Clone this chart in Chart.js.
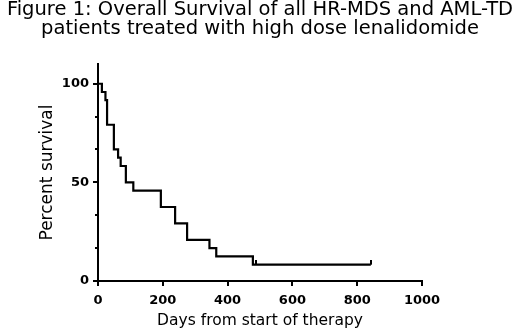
<!DOCTYPE html>
<html lang="en">
<head>
    <meta charset="UTF-8">
    <title>Overall Survival</title>
    <script src="https://cdn.jsdelivr.net/npm/chart.js"></script>
    <style>
        html, body { margin: 0; padding: 0; background: #fff; }
        canvas { display: block; }
    </style>
</head>
<body>
    <canvas id="survivalChart" width="520" height="330"></canvas>

    <script>
        // Kaplan-Meier steps (days, percent surviving after each drop)
        const days = [0, 12, 23, 28, 49, 62, 70, 86, 109, 194, 238, 275, 344, 365, 478, 842];
        const survival = [100, 95.8, 91.7, 79.2, 66.7, 62.5, 58.3, 50, 45.8, 37.5, 29.2, 20.8, 16.7, 12.5, 8.3, 8.3];

        // censored patients (small upward ticks on the curve)
        const censoredDays = [487, 842];
        const censoredSurvival = [8.3, 8.3];

        const xTicks = [0, 200, 400, 600, 800, 1000];
        const yTicks = [0, 50, 100];
        const yMinorTicks = [16.7, 33.3, 66.7, 83.3];

        const fontFamily = "'DejaVu Sans', sans-serif";

        // little tick used as point style for censored marks
        const censorMark = document.createElement('canvas');
        censorMark.width = 2;
        censorMark.height = 10;
        const cm = censorMark.getContext('2d');
        cm.fillStyle = '#000';
        cm.fillRect(0, 0, 2, 5);

        // shorter minor ticks on the y axis
        const minorTicks = {
            id: 'minorTicks',
            afterDraw(chart) {
                const scale = chart.scales.y;
                const ctx = chart.ctx;
                ctx.save();
                ctx.strokeStyle = '#000';
                ctx.lineWidth = 2;
                yMinorTicks.forEach(v => {
                    const py = Math.round(scale.getPixelForValue(v));
                    ctx.beginPath();
                    ctx.moveTo(scale.right - 3, py);
                    ctx.lineTo(scale.right, py);
                    ctx.stroke();
                });
                ctx.restore();
            }
        };

        const ctx = document.getElementById('survivalChart').getContext('2d');
        const survivalChart = new Chart(ctx, {
            type: 'line',
            data: {
                datasets: [{
                    label: 'Overall survival',
                    data: days.map((d, i) => ({ x: d, y: survival[i] })),
                    borderColor: '#000',
                    borderWidth: 2.2,
                    stepped: true,
                    pointRadius: 0,
                    fill: false
                }, {
                    label: 'Censored',
                    data: censoredDays.map((d, i) => ({ x: d, y: censoredSurvival[i] })),
                    showLine: false,
                    pointStyle: censorMark,
                    pointRadius: 4
                }]
            },
            options: {
                responsive: false,
                animation: false,
                layout: { padding: 0 },
                plugins: {
                    legend: { display: false },
                    tooltip: { enabled: false },
                    title: {
                        display: true,
                        text: ['Figure 1: Overall Survival of all HR-MDS and AML-TD',
                               'patients treated with high dose lenalidomide'],
                        color: '#000',
                        font: { family: fontFamily, size: 19.5, weight: 'normal', lineHeight: 1 },
                        padding: { top: 0, bottom: 25 }
                    }
                },
                scales: {
                    x: {
                        type: 'linear',
                        min: 0,
                        max: 1000,
                        afterBuildTicks: s => { s.ticks = xTicks.map(v => ({ value: v })); },
                        afterFit: s => { s.height = 49; },
                        ticks: {
                            color: '#000',
                            padding: 7,
                            maxRotation: 0,
                            callback: v => String(v),
                            font: { family: fontFamily, size: 13, weight: 'bold' }
                        },
                        grid: { drawOnChartArea: false, tickLength: 5, lineWidth: 2, color: '#000' },
                        border: { color: '#000', width: 2 },
                        title: {
                            display: true,
                            text: 'Days from start of therapy',
                            color: '#000',
                            padding: 0,
                            font: { family: fontFamily, size: 15.5, lineHeight: 1.2 }
                        }
                    },
                    y: {
                        min: 0,
                        max: 110,
                        afterBuildTicks: s => { s.ticks = yTicks.map(v => ({ value: v })); },
                        afterFit: s => { s.width = 98; },
                        ticks: {
                            color: '#000',
                            padding: 4,
                            callback: v => String(v),
                            font: { family: fontFamily, size: 13, weight: 'bold' }
                        },
                        grid: { drawOnChartArea: false, tickLength: 5, lineWidth: 2, color: '#000' },
                        border: { color: '#000', width: 2 },
                        title: {
                            display: true,
                            text: 'Percent survival',
                            color: '#000',
                            padding: { top: 37, bottom: 0 },
                            font: { family: fontFamily, size: 17 }
                        }
                    },
                    // empty right-hand axis, only to keep the plot area narrower than the title
                    yRight: {
                        position: 'right',
                        min: 0,
                        max: 110,
                        afterFit: s => { s.width = 98; },
                        ticks: { display: false },
                        grid: { display: false },
                        border: { display: false }
                    }
                }
            },
            plugins: [minorTicks]
        });
    </script>
</body>
</html>
